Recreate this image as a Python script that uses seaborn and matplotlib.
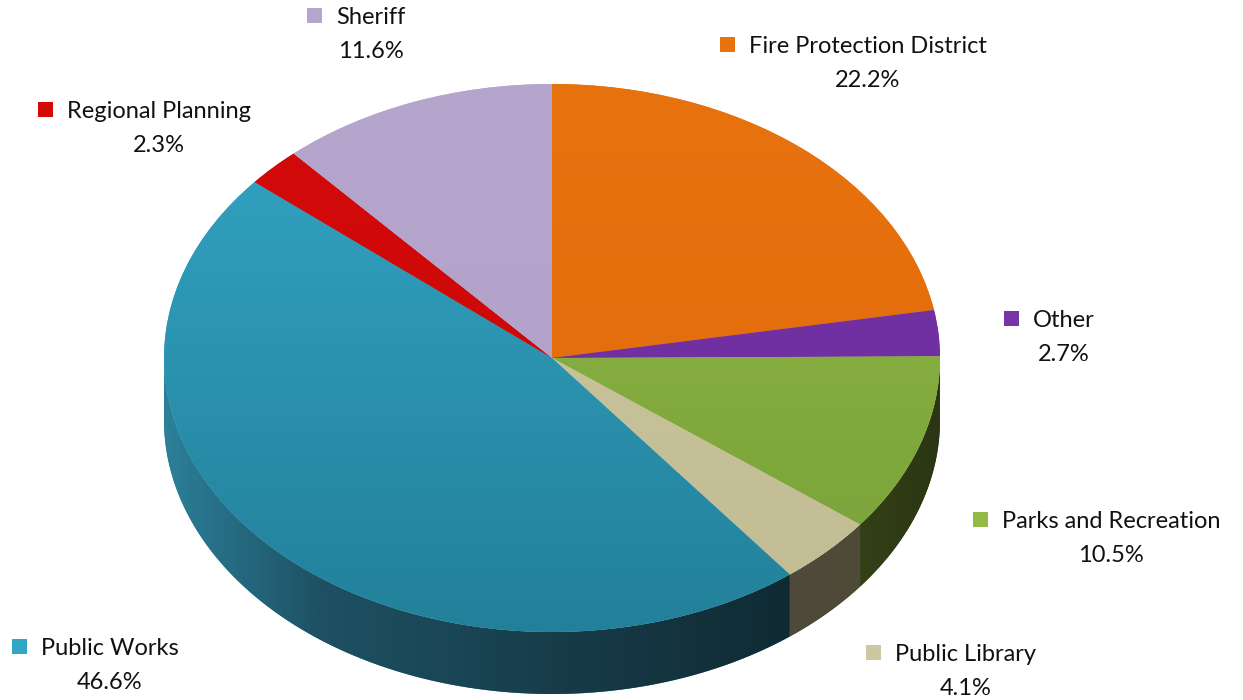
import numpy as np
import matplotlib
matplotlib.use("Agg")
import matplotlib.pyplot as plt
from matplotlib.colors import LinearSegmentedColormap
from matplotlib.patches import Rectangle, Polygon
import seaborn as sns

# Budget share by department (percent)
categories = ["Fire Protection District", "Other", "Parks and Recreation",
              "Public Library", "Public Works", "Regional Planning", "Sheriff"]
shares = [22.2, 2.7, 10.5, 4.1, 46.6, 2.3, 11.6]

# Top-face colours (light at top, dark at bottom)
top_colors = [("#E8720E", "#E06A08"), ("#7634A6", "#6C2D9C"), ("#93B946", "#76A038"),
              ("#CDC7A2", "#C2BC93"), ("#33A6C5", "#23809A"), ("#D40A0A", "#C80606"),
              ("#B6A5CC", "#B09FC6")]
# Side-wall shading stops across the disc width, (x in [-1, 1], colour)
side_colors = [
    [(-1, "#9A4A06"), (1, "#7A3A04")],
    [(-1, "#4A2070"), (1, "#3A1858")],
    [(-1, "#3A4818"), (0.75, "#364418"), (1, "#2B3513")],
    [(-1, "#58523F"), (1, "#4E4838")],
    [(-1, "#2D8099"), (-0.85, "#266E85"), (-0.6, "#1E5163"), (0.0, "#173D4A"),
     (0.62, "#102A33"), (1, "#0E2630")],
    [(-1, "#8A0404"), (1, "#700303")],
    [(-1, "#7A6E8A"), (1, "#605670")],
]

# Layout (pixels)
W, H = 1243, 700
cx_px, cy_px = 552, 358          # centre of the top face
rx_px, ry_px = 388, 274          # radii of the top face
depth_px = 62                    # thickness of the disc
label_pos = [(720, 53), (1004, 327), (973, 528), (866, 661), (12, 655), (38, 118), (307, 24)]

sns.set_theme(style="white")
plt.rcParams["font.family"] = ["Lato", "DejaVu Sans"]

fig = plt.figure(figsize=(W / 100, H / 100), dpi=100)
ax = fig.add_axes([0, 0, 1, 1])
ax.set_axis_off()

mid_colors = [c[0] for c in top_colors]
wedges, _ = ax.pie(shares, startangle=90, counterclock=False, radius=1,
                   colors=mid_colors, wedgeprops=dict(linewidth=0))

depth = depth_px / ry_px

# Vertical gradient on each top wedge
for w, (c_top, c_bot) in zip(wedges, top_colors):
    w.set_zorder(3)
    cmap = LinearSegmentedColormap.from_list("g", [c_bot, c_top])
    grad = np.linspace(0, 1, 256).reshape(-1, 1)
    im = ax.imshow(grad, cmap=cmap, origin="lower", extent=[-1, 1, -1, 1],
                   aspect="auto", zorder=4, interpolation="bilinear")
    im.set_clip_path(w)

# Side walls: only the front half of the disc is visible
total = sum(shares)
cum = np.concatenate([[0], np.cumsum(shares)]) / total * 360
for i, stops in enumerate(side_colors):
    a_start = 90 - cum[i]
    a_end = 90 - cum[i + 1]
    lo, hi = max(a_end, -180), min(a_start, 0)
    if hi <= lo:
        continue
    t = np.radians(np.linspace(lo, hi, 300))
    xs = np.cos(t)
    ys = np.sin(t)
    verts = np.vstack([np.column_stack([xs, ys]),
                       np.column_stack([xs[::-1], ys[::-1] - depth])])
    poly = Polygon(verts, closed=True, facecolor=stops[0][1], edgecolor="none", zorder=1)
    ax.add_patch(poly)
    cmap = LinearSegmentedColormap.from_list(
        "s", [((p + 1) / 2, c) for p, c in stops])
    grad = np.linspace(0, 1, 512).reshape(1, -1)
    im = ax.imshow(grad, cmap=cmap, extent=[-1, 1, -1 - depth, 0],
                   aspect="auto", zorder=2, interpolation="bilinear")
    im.set_clip_path(poly)

ax.set_aspect("auto")
ax.set_xlim(-cx_px / rx_px, (W - cx_px) / rx_px)
ax.set_ylim(-(H - cy_px) / ry_px, cy_px / ry_px)

# Labels: colour square, name, and percentage centred under the name
fs = 17
name_texts = []
for (sx, by), name, (col, _) in zip(label_pos, categories, top_colors):
    sq = 15
    fig.patches.append(Rectangle((sx / W, 1 - (by - 1) / H), sq / W, sq / H,
                                 transform=fig.transFigure, facecolor=col,
                                 edgecolor="none"))
    t = fig.text((sx + 29) / W, 1 - by / H, name, fontsize=fs, color="#111111",
                 ha="left", va="baseline")
    name_texts.append(t)

fig.canvas.draw()
renderer = fig.canvas.get_renderer()
for t, (sx, by), v in zip(name_texts, label_pos, shares):
    bb = t.get_window_extent(renderer)
    xc = (bb.x0 + bb.x1) / 2
    fig.text(xc / W, 1 - (by + 34) / H, f"{v:.1f}%", fontsize=fs, color="#111111",
             ha="center", va="baseline")

fig.savefig("out.png", dpi=100)
